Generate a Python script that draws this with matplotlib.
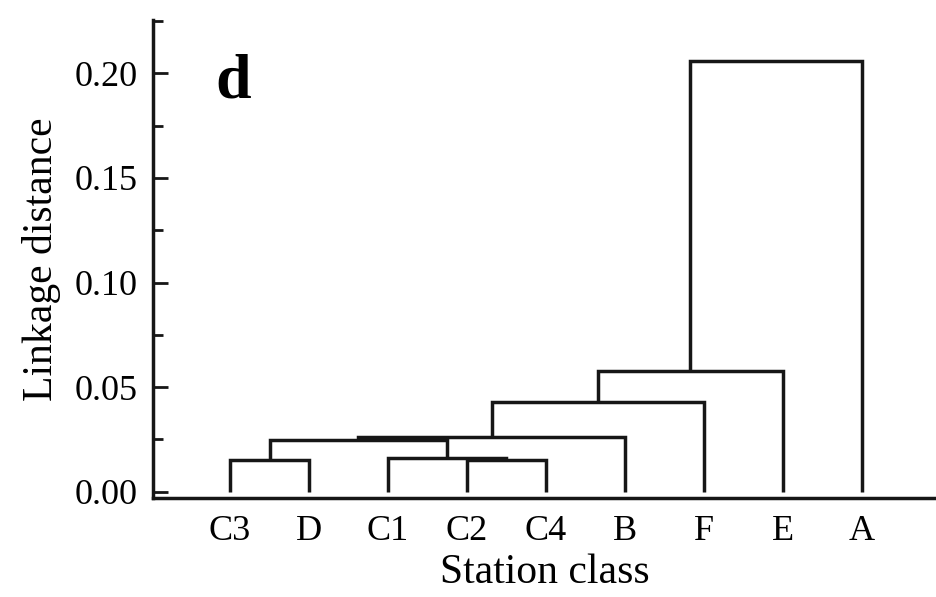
import numpy as np
import matplotlib
matplotlib.use("Agg")
import matplotlib.pyplot as plt
from matplotlib.ticker import MultipleLocator, FormatStrFormatter

# station classes in leaf order
leaves = ["C3", "D", "C1", "C2", "C4", "B", "F", "E", "A"]

# merge table (scipy style ids: 0-8 leaves, 9+ new clusters)
link_left = [0, 3, 2, 9, 12, 13, 14, 15]
link_right = [1, 4, 10, 11, 5, 6, 7, 8]
link_height = [0.0151, 0.0153, 0.0163, 0.0246, 0.0263, 0.0430, 0.0577, 0.2060]

plt.rcParams['font.family'] = ['Liberation Serif', 'DejaVu Serif']

fig = plt.figure(figsize=(9.37, 5.97), dpi=100)
ax = fig.add_axes([0.1633, 0.1658, 0.8367, 0.8007])

pos = {i: float(i) for i in range(len(leaves))}
hgt = {i: 0.0 for i in range(len(leaves))}
lw = 2.5
col = '#161616'
for k, (a, b, h) in enumerate(zip(link_left, link_right, link_height)):
    xa, xb = pos[a], pos[b]
    ax.plot([xa, xa, xb, xb], [hgt[a], h, h, hgt[b]], color=col, lw=lw,
            solid_joinstyle='miter', solid_capstyle='butt')
    new = len(leaves) + k
    pos[new] = (xa + xb) / 2
    hgt[new] = h

ax.set_xlim(-0.975, 8.95)
ax.set_ylim(-0.003, 0.2255)

for s in ['top', 'right']:
    ax.spines[s].set_visible(False)
for s in ['left', 'bottom']:
    ax.spines[s].set_linewidth(lw)
    ax.spines[s].set_color(col)

ax.yaxis.set_major_locator(MultipleLocator(0.05))
ax.yaxis.set_minor_locator(MultipleLocator(0.025))
ax.yaxis.set_major_formatter(FormatStrFormatter('%.2f'))
ax.tick_params(axis='y', which='major', direction='in', length=11, width=2,
               color=col, labelsize=26, pad=11)
ax.tick_params(axis='y', which='minor', direction='in', length=7, width=2,
               color=col)

ax.set_xticks(range(len(leaves)))
ax.set_xticklabels(leaves)
ax.tick_params(axis='x', length=0, labelsize=26, pad=12)

ax.set_ylabel('Linkage distance', fontsize=30, labelpad=10)
ax.set_xlabel('Station class', fontsize=30, labelpad=4)

ax.text(0.079, 0.837, 'd', transform=ax.transAxes, fontsize=46,
        fontweight='bold', va='baseline', ha='left')

fig.savefig('out.png', dpi=100)
